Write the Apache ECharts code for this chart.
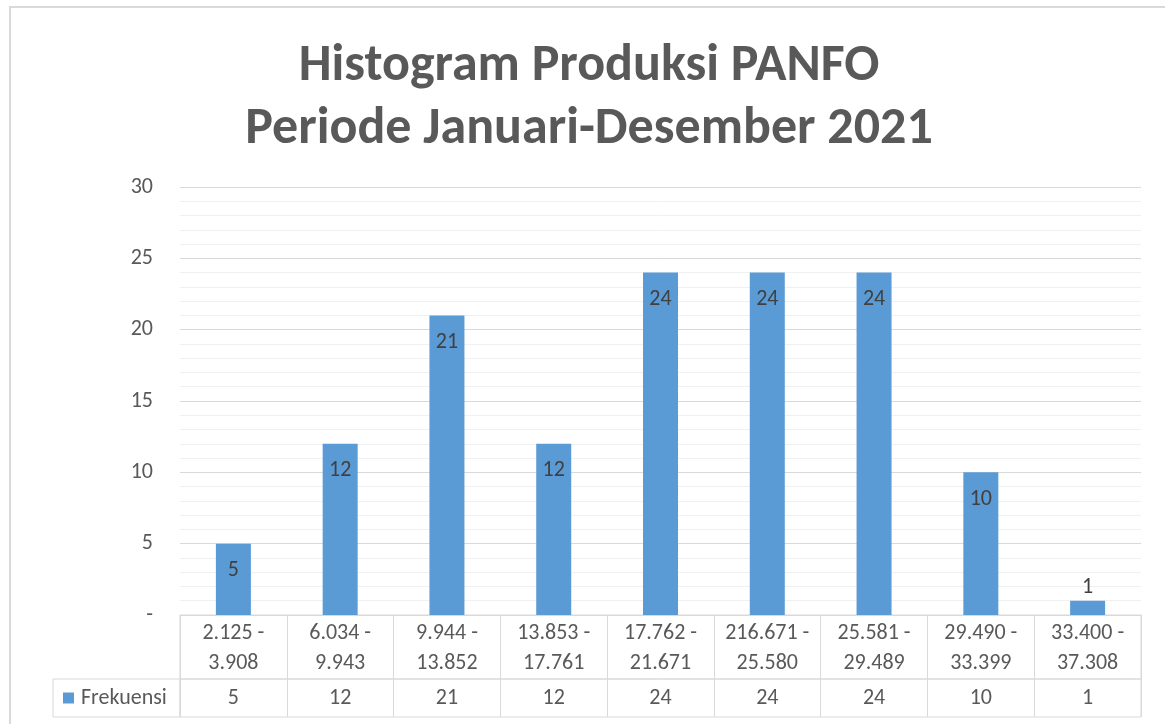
<!DOCTYPE html>
<html>
<head>
<meta charset="utf-8">
<script src="https://cdn.jsdelivr.net/npm/echarts@6/dist/echarts.min.js"></script>
<style>
  body { margin: 0; background: #fff; }
  #frame {
    position: absolute; left: 9px; top: 6px; width: 1300px; height: 900px;
    border-left: 2px solid #d9d9d9; border-top: 2px solid #d9d9d9;
  }
  #chart { position: absolute; left: 0; top: 0; width: 1165px; height: 724px; }
</style>
</head>
<body>
<div id="frame"></div>
<div id="chart"></div>
<script>
// kelas interval produksi
const categories = [
  '2.125 -\n3.908',
  '6.034 -\n9.943',
  '9.944 -\n13.852',
  '13.853 -\n17.761',
  '17.762 -\n21.671',
  '216.671 -\n25.580',
  '25.581 -\n29.489',
  '29.490 -\n33.399',
  '33.400 -\n37.308',
];
// frekuensi tiap kelas
const frekuensi = [5, 12, 21, 12, 24, 24, 24, 10, 1];
const yTicks = [0, 5, 10, 15, 20, 25, 30];

const FONT = 'Carlito, "Liberation Sans", Arial, sans-serif';
const GRID_LINE = '#d9d9d9';
const TEXT = '#595959';

const chart = echarts.init(document.getElementById('chart'));

const barData = frekuensi.map(v => {
  // bar yang terlalu pendek: label di atas bar
  if (v < 3) {
    return { value: v, label: { position: 'top', distance: 2 } };
  }
  return v;
});

const option = {
  animation: false,
  title: {
    text: 'Histogram Produksi PANFO\nPeriode Januari-Desember 2021',
    left: 584,
    top: 30,
    textAlign: 'center',
    textStyle: {
      fontFamily: FONT,
      fontWeight: 'bold',
      fontSize: 52,
      lineHeight: 63,
      color: TEXT,
    },
  },
  legend: {
    data: ['Frekuensi'],
    left: 63,
    top: 687,
    padding: 0,
    icon: 'rect',
    itemWidth: 11,
    itemHeight: 11,
    textStyle: { fontFamily: FONT, fontSize: 22, color: TEXT, padding: [0, 0, 0, 2] },
  },
  grid: [
    { left: 180, top: 187, width: 961, height: 428 },
    { left: 180, top: 615, width: 961, height: 64, show: true, borderColor: GRID_LINE, borderWidth: 1 },
    { left: 180, top: 679, width: 961, height: 38, show: true, borderColor: GRID_LINE, borderWidth: 1 },
    { left: 53, top: 679, width: 127, height: 38, show: true, borderColor: GRID_LINE, borderWidth: 1 },
  ],
  xAxis: [
    {
      type: 'category',
      gridIndex: 0,
      data: categories,
      axisLine: { lineStyle: { color: GRID_LINE } },
      axisTick: { show: false },
      axisLabel: {
        interval: 0,
        margin: 3,
        fontFamily: FONT,
        fontSize: 22,
        lineHeight: 30,
        color: TEXT,
      },
    },
    {
      type: 'category',
      gridIndex: 1,
      data: categories,
      axisLine: { show: false },
      axisTick: { show: false },
      axisLabel: { show: false },
      splitLine: { show: true, interval: 0, lineStyle: { color: GRID_LINE } },
    },
    {
      type: 'category',
      gridIndex: 2,
      data: categories,
      axisLine: { show: false },
      axisTick: { show: false },
      axisLabel: {
        interval: 0,
        inside: true,
        margin: 19,
        verticalAlign: 'middle',
        fontFamily: FONT,
        fontSize: 22,
        color: TEXT,
        formatter: (value, idx) => String(frekuensi[idx]),
      },
      splitLine: { show: true, interval: 0, lineStyle: { color: GRID_LINE } },
    },
    { type: 'category', gridIndex: 3, data: [''], show: false },
  ],
  yAxis: [
    {
      type: 'value',
      gridIndex: 0,
      min: yTicks[0],
      max: yTicks[yTicks.length - 1],
      interval: 5,
      axisLine: { show: false },
      axisTick: { show: false },
      axisLabel: {
        margin: 27,
        fontFamily: FONT,
        fontSize: 22,
        color: TEXT,
        formatter: v => (v === 0 ? '-' : String(v)),
      },
      splitLine: { lineStyle: { color: GRID_LINE } },
      minorTick: { show: false, splitNumber: 5 },
      minorSplitLine: { show: true, lineStyle: { color: '#f0f0f0' } },
    },
    { type: 'value', gridIndex: 1, show: false },
    { type: 'value', gridIndex: 2, show: false },
    { type: 'value', gridIndex: 3, show: false },
  ],
  series: [
    {
      name: 'Frekuensi',
      type: 'bar',
      xAxisIndex: 0,
      yAxisIndex: 0,
      data: barData,
      barWidth: 35,
      itemStyle: { color: '#5b9bd5' },
      label: {
        show: true,
        position: 'insideTop',
        distance: 16,
        fontFamily: FONT,
        fontSize: 22,
        color: '#404040',
      },
    },
  ],
};

chart.setOption(option);

window.addEventListener('resize', () => chart.resize());
</script>
</body>
</html>
